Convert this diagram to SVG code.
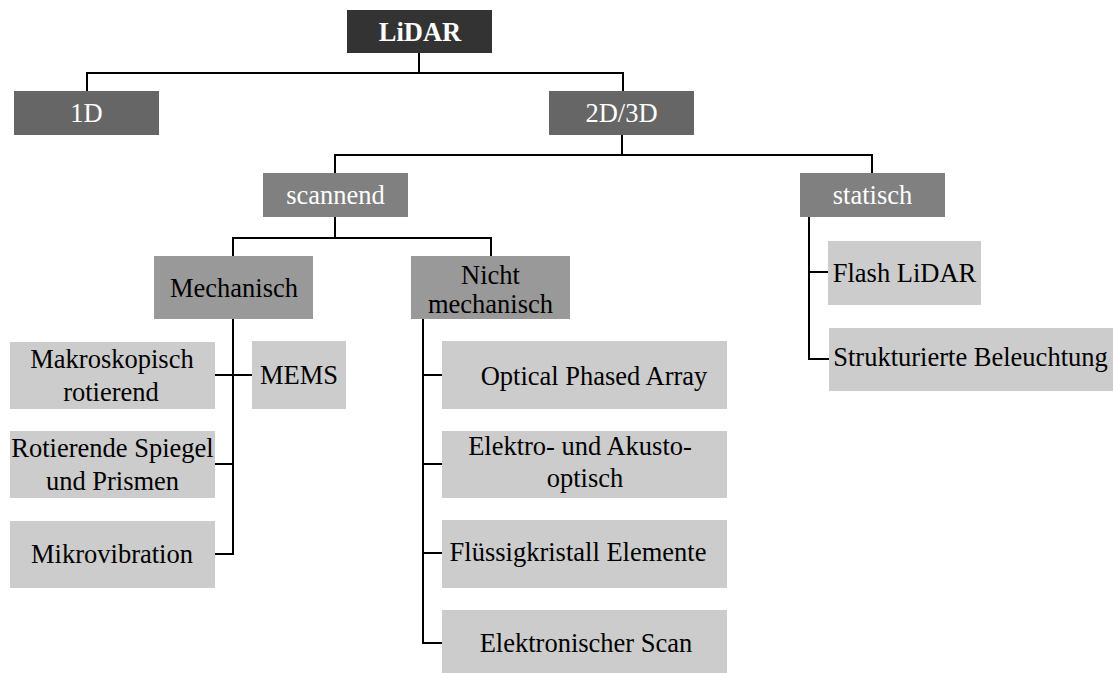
<svg xmlns="http://www.w3.org/2000/svg" width="1113" height="673" viewBox="0 0 1113 673">
<style>
text{font-family:"Liberation Serif","Times New Roman",serif;font-size:26.5px;text-anchor:middle}
.l0{fill:#333333}.l1{fill:#666666}.l2{fill:#808080}.l3{fill:#999999}.l4{fill:#cccccc}
.w{fill:#ffffff}.k{fill:#000000}
.c{fill:none;stroke:#000;stroke-width:2}
</style>
<rect width="1113" height="673" fill="#ffffff"/>
<g id="connectors">
<path class="c" d="M419 53V73M87 91V73H623V91"/>
<path class="c" d="M622 135V155M335 173V155H872V173"/>
<path class="c" d="M335 217V238M233 256V238H491V256"/>
<path class="c" d="M233 319V554H215M215 375H252M215 464H233"/>
<path class="c" d="M423 319V643H442M423 375H442M423 464H442M423 553H442"/>
<path class="c" d="M809 217V359H829M809 272H828"/>
</g>
<g id="lidar"><rect class="l0" x="347" y="10" width="145" height="43"/><text class="w" x="420" y="41" font-weight="bold">LiDAR</text></g>
<g id="n1d"><rect class="l1" x="14" y="91" width="145" height="44"/><text class="w" x="86.5" y="122">1D</text></g>
<g id="n2d3d"><rect class="l1" x="549" y="91" width="145" height="44"/><text class="w" x="621.5" y="122">2D/3D</text></g>
<g id="scannend"><rect class="l2" x="263" y="173" width="145" height="44"/><text class="w" x="335.5" y="204">scannend</text></g>
<g id="statisch"><rect class="l2" x="800" y="173" width="145" height="44"/><text class="w" x="872.5" y="204">statisch</text></g>
<g id="mechanisch"><rect class="l3" x="154" y="256" width="159" height="63"/><text class="k" x="234" y="297">Mechanisch</text></g>
<g id="nichtmech"><rect class="l3" x="411" y="256" width="159" height="63"/><text class="k" x="490.5" y="284">Nicht</text><text class="k" x="490.5" y="313">mechanisch</text></g>
<g id="makro"><rect class="l4" x="10" y="342" width="205" height="67"/><text class="k" x="112" y="368">Makroskopisch</text><text class="k" x="111" y="401">rotierend</text></g>
<g id="mems"><rect class="l4" x="252" y="341" width="94" height="68"/><text class="k" x="299" y="384">MEMS</text></g>
<g id="spiegel"><rect class="l4" x="10" y="431" width="205" height="67"/><text class="k" x="112.5" y="457">Rotierende Spiegel</text><text class="k" x="112.5" y="490">und Prismen</text></g>
<g id="mikro"><rect class="l4" x="10" y="521" width="205" height="67"/><text class="k" x="112" y="563">Mikrovibration</text></g>
<g id="opa"><rect class="l4" x="442" y="341" width="285" height="68"/><text class="k" x="594" y="385">Optical Phased Array</text></g>
<g id="elektro"><rect class="l4" x="442" y="431" width="285" height="67"/><text class="k" x="580" y="455">Elektro- und Akusto-</text><text class="k" x="585" y="487">optisch</text></g>
<g id="fluessig"><rect class="l4" x="442" y="520" width="285" height="68"/><text class="k" x="578" y="561">Flüssigkristall Elemente</text></g>
<g id="escan"><rect class="l4" x="442" y="610" width="285" height="63"/><text class="k" x="586" y="652">Elektronischer Scan</text></g>
<g id="flash"><rect class="l4" x="828" y="241" width="153" height="64"/><text class="k" x="904.5" y="282">Flash LiDAR</text></g>
<g id="struktur"><rect class="l4" x="829" y="328" width="284" height="63"/><text class="k" x="970.5" y="366">Strukturierte Beleuchtung</text></g>
</svg>
